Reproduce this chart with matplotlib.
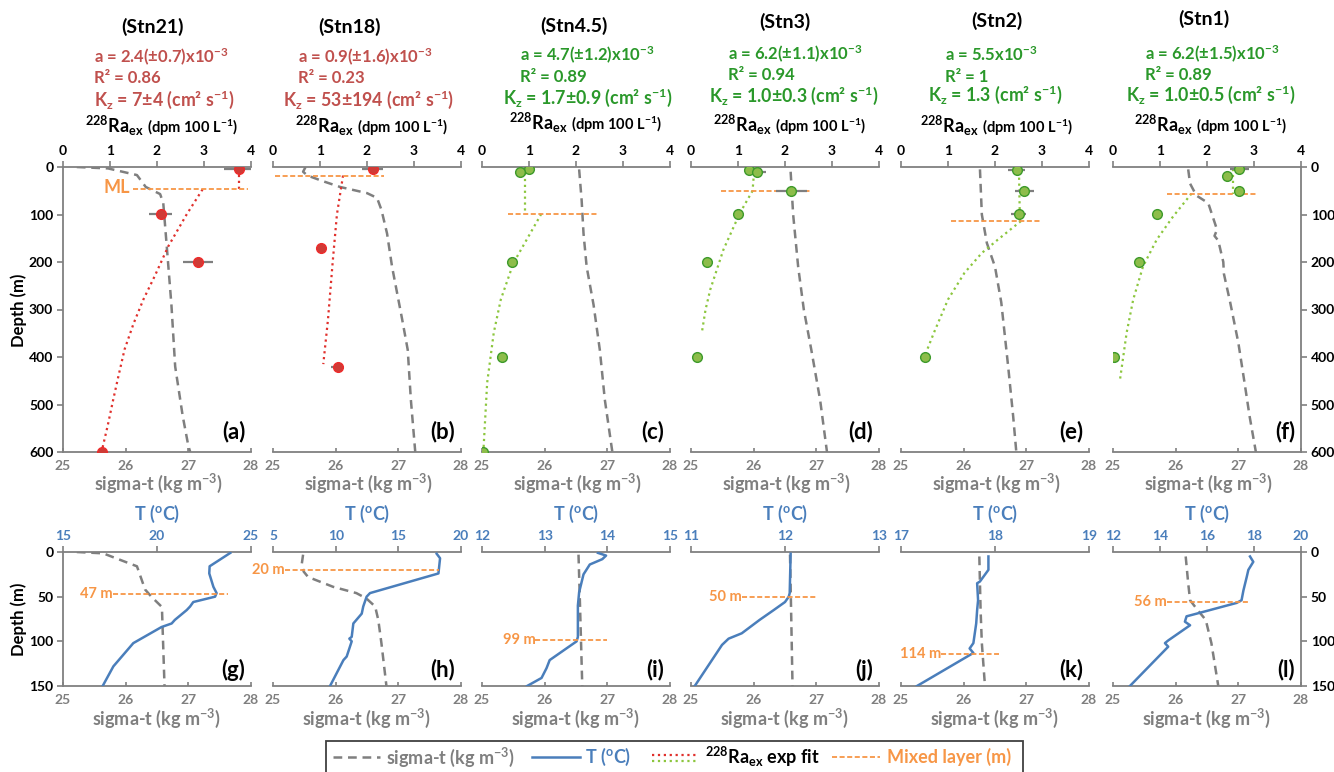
import matplotlib
matplotlib.use('Agg')
import matplotlib.pyplot as plt
from matplotlib.lines import Line2D
from matplotlib.patches import Rectangle

plt.rcParams['font.family'] = ['Lato', 'DejaVu Sans']
plt.rcParams['font.weight'] = 'bold'
plt.rcParams['mathtext.fontset'] = 'custom'
plt.rcParams['mathtext.rm'] = 'Lato:bold'
plt.rcParams['mathtext.bf'] = 'Lato:bold'
plt.rcParams['mathtext.it'] = 'Lato:bold'

# ---------------- data ----------------
stations = ['(Stn21)', '(Stn18)', '(Stn4.5)', '(Stn3)', '(Stn2)', '(Stn1)']
top_labels = ['(a)', '(b)', '(c)', '(d)', '(e)', '(f)']
bot_labels = ['(g)', '(h)', '(i)', '(j)', '(k)', '(l)']
a_text = [r'a = 2.4(±0.7)x10$^{-3}$', r'a = 0.9(±1.6)x10$^{-3}$', r'a = 4.7(±1.2)x10$^{-3}$',
          r'a = 6.2(±1.1)x10$^{-3}$', r'a = 5.5x10$^{-3}$', r'a = 6.2(±1.5)x10$^{-3}$']
r2_text = ['R² = 0.86', 'R² = 0.23', 'R² = 0.89', 'R² = 0.94', 'R² = 1', 'R² = 0.89']
kz_text = [r'K$_{z}$ = 7±4 (cm² s$^{-1}$)', r'K$_{z}$ = 53±194 (cm² s$^{-1}$)',
           r'K$_{z}$ = 1.7±0.9 (cm² s$^{-1}$)', r'K$_{z}$ = 1.0±0.3 (cm² s$^{-1}$)',
           r'K$_{z}$ = 1.3 (cm² s$^{-1}$)', r'K$_{z}$ = 1.0±0.5 (cm² s$^{-1}$)']
fit_group = ['red', 'red', 'green', 'green', 'green', 'green']

# 228Ra_ex points (dpm 100 L-1) vs depth (m)
ra_depth_21 = [5, 100, 200, 600]
ra_val_21 = [3.75, 2.08, 2.87, 0.82]
ra_err_21 = [0.32, 0.24, 0.32, 0.0]
ra_depth_18 = [5, 170, 420]
ra_val_18 = [2.12, 1.03, 1.38]
ra_err_18 = [0.22, 0.10, 0.14]
ra_depth_45 = [5, 10, 200, 400, 600]
ra_val_45 = [0.99, 0.81, 0.64, 0.42, 0.03]
ra_err_45 = [0, 0, 0, 0, 0]
ra_depth_3 = [7, 10, 50, 100, 200, 400]
ra_val_3 = [1.24, 1.40, 2.13, 0.99, 0.35, 0.13]
ra_err_3 = [0, 0.2, 0.33, 0, 0, 0]
ra_depth_2 = [7, 50, 100, 400]
ra_val_2 = [2.46, 2.62, 2.50, 0.52]
ra_err_2 = [0.18, 0.2, 0.15, 0]
ra_depth_1 = [4, 18, 50, 100, 200, 400]
ra_val_1 = [2.69, 2.42, 2.69, 0.93, 0.55, 0.02]
ra_err_1 = [0.2, 0, 0, 0, 0, 0]

# exp-fit lines: mixed-layer vertical part and deep curve
fitv_depth_21 = [5, 47];   fitv_val_21 = [3.75, 3.75]
fitc_depth_21 = [47, 100, 167, 230, 279, 330, 384, 440, 489, 545, 600]
fitc_val_21 = [2.97, 2.63, 2.24, 1.95, 1.71, 1.50, 1.31, 1.18, 1.07, 0.95, 0.82]
fitv_depth_18 = [];        fitv_val_18 = []
fitc_depth_18 = [18, 100, 200, 321, 415]
fitc_val_18 = [1.49, 1.36, 1.27, 1.17, 1.07]
fitv_depth_45 = [12, 99];  fitv_val_45 = [0.91, 0.91]
fitc_depth_45 = [99, 153, 202, 279, 349, 454, 598]
fitc_val_45 = [1.26, 0.95, 0.67, 0.40, 0.25, 0.11, 0.03]
fitv_depth_3 = [12, 50];   fitv_val_3 = [1.34, 1.31]
fitc_depth_3 = [50, 97, 174, 258, 300, 349]
fitc_val_3 = [1.31, 1.04, 0.69, 0.41, 0.31, 0.23]
fitv_depth_2 = [10, 114];  fitv_val_2 = [2.51, 2.53]
fitc_depth_2 = [114, 153, 181, 223, 279, 349, 384]
fitc_val_2 = [2.55, 2.06, 1.72, 1.35, 1.00, 0.70, 0.56]
fitv_depth_1 = [4, 56];    fitv_val_1 = [2.56, 2.56]
fitc_depth_1 = [56, 104, 153, 209, 279, 349, 447]
fitc_val_1 = [1.67, 1.28, 0.93, 0.64, 0.43, 0.29, 0.15]

# sigma-t profiles (0-600 m)
sig_depth_21 = [0, 3, 17, 42, 57, 76, 174, 290, 420, 524, 587, 600]
sig_val_21 = [25.22, 25.72, 26.18, 26.32, 26.55, 26.60, 26.66, 26.73, 26.79, 26.91, 27.00, 27.03]
sig_depth_18 = [0, 10, 18, 30, 42, 55, 65, 90, 140, 210, 320, 385, 490, 600]
sig_val_18 = [25.52, 25.48, 25.55, 25.80, 26.07, 26.50, 26.66, 26.73, 26.82, 26.90, 27.06, 27.15, 27.20, 27.27]
sig_depth_45 = [5, 70, 140, 210, 290, 385, 490, 600]
sig_val_45 = [26.55, 26.59, 26.62, 26.67, 26.78, 26.88, 26.96, 27.08]
sig_depth_3 = [10, 100, 210, 300, 385, 490, 600]
sig_val_3 = [26.59, 26.63, 26.71, 26.80, 26.92, 27.06, 27.17]
sig_depth_2 = [5, 100, 160, 210, 285, 420, 525, 600]
sig_val_2 = [26.26, 26.29, 26.37, 26.50, 26.60, 26.71, 26.79, 26.84]
sig_depth_1 = [5, 35, 60, 76, 132, 145, 155, 200, 225, 285, 370, 455, 525, 600]
sig_val_1 = [26.20, 26.23, 26.33, 26.52, 26.66, 26.62, 26.68, 26.76, 26.77, 26.87, 27.00, 27.10, 27.18, 27.28]

# upper 150 m: temperature and sigma-t
t_depth_21 = [1, 16, 24, 39, 46, 50, 56, 61, 65, 76, 80, 84, 102, 128, 150]
t_val_21 = [23.9, 22.8, 22.78, 23.0, 23.17, 23.09, 21.93, 21.76, 21.58, 20.95, 20.78, 20.24, 18.74, 17.68, 17.11]
s_depth_21 = [0, 1.5, 16, 42, 50, 61, 65, 150]
s_val_21 = [25.22, 25.64, 26.18, 26.31, 26.41, 26.57, 26.58, 26.62]
t_depth_18 = [2, 7, 24, 46, 50, 61, 69, 80, 95, 97, 100, 117, 121, 150]
t_val_18 = [18.06, 18.33, 18.2, 12.74, 12.47, 12.2, 12.08, 11.41, 11.28, 11.09, 11.28, 10.88, 10.62, 9.55]
s_depth_18 = [3, 13, 22, 28, 39, 46, 52, 61, 76, 102, 150]
s_val_18 = [25.48, 25.46, 25.49, 25.56, 25.96, 26.33, 26.49, 26.63, 26.68, 26.73, 26.81]
t_depth_45 = [1, 4, 8, 14, 25, 45, 60, 76, 95, 100, 121, 130, 141, 150]
t_val_45 = [13.85, 13.98, 13.92, 13.72, 13.62, 13.55, 13.53, 13.53, 13.53, 13.51, 13.08, 13.03, 12.95, 12.72]
s_depth_45 = [3, 50, 100, 150]
s_val_45 = [26.54, 26.56, 26.58, 26.60]
t_depth_3 = [2, 46, 50, 56, 65, 76, 91, 97, 104, 150]
t_val_3 = [12.06, 12.05, 12.04, 12.0, 11.88, 11.73, 11.54, 11.4, 11.33, 11.04]
s_depth_3 = [3, 75, 150]
s_val_3 = [26.58, 26.60, 26.62]
t_depth_2 = [5, 20, 33, 35, 54, 65, 80, 102, 108, 113, 150]
t_val_2 = [17.93, 17.93, 17.84, 17.81, 17.82, 17.81, 17.8, 17.77, 17.73, 17.77, 17.17]
s_depth_2 = [5, 65, 102, 150]
s_val_2 = [26.25, 26.27, 26.29, 26.34]
t_depth_1 = [5, 11, 20, 28, 43, 54, 57, 69, 72, 78, 82, 99, 102, 106, 150]
t_val_1 = [17.83, 17.97, 17.76, 17.69, 17.55, 17.47, 17.26, 15.56, 15.13, 15.06, 15.28, 14.35, 14.21, 14.35, 12.72]
s_depth_1 = [5, 35, 54, 65, 76, 102, 150]
s_val_1 = [26.16, 26.20, 26.23, 26.35, 26.48, 26.57, 26.68]

ml_depth = [47, 20, 99, 50, 114, 56]
ml_labels = ['47 m', '20 m', '99 m', '50 m', '114 m', '56 m']
ml_ra_extent = [(1.49, 3.94), (0.04, 2.36), (0.55, 2.47), (0.64, 2.55), (1.06, 2.99), (1.14, 3.06)]
ml_t_extent = [(17.66, 23.78), (5.96, 18.27), (12.85, 13.99), (11.54, 12.33), (17.43, 18.04), (14.29, 17.76)]
t_lim = [(15, 25), (5, 20), (12, 15), (11, 13), (17, 19), (12, 20)]
t_ticks = [[15, 20, 25], [5, 10, 15, 20], [12, 13, 14, 15], [11, 12, 13], [17, 18, 19], [12, 14, 16, 18, 20]]

ra_sets = [(ra_depth_21, ra_val_21, ra_err_21), (ra_depth_18, ra_val_18, ra_err_18),
           (ra_depth_45, ra_val_45, ra_err_45), (ra_depth_3, ra_val_3, ra_err_3),
           (ra_depth_2, ra_val_2, ra_err_2), (ra_depth_1, ra_val_1, ra_err_1)]
fitv_sets = [(fitv_depth_21, fitv_val_21), (fitv_depth_18, fitv_val_18), (fitv_depth_45, fitv_val_45),
             (fitv_depth_3, fitv_val_3), (fitv_depth_2, fitv_val_2), (fitv_depth_1, fitv_val_1)]
fitc_sets = [(fitc_depth_21, fitc_val_21), (fitc_depth_18, fitc_val_18), (fitc_depth_45, fitc_val_45),
             (fitc_depth_3, fitc_val_3), (fitc_depth_2, fitc_val_2), (fitc_depth_1, fitc_val_1)]
sig_sets = [(sig_depth_21, sig_val_21), (sig_depth_18, sig_val_18), (sig_depth_45, sig_val_45),
            (sig_depth_3, sig_val_3), (sig_depth_2, sig_val_2), (sig_depth_1, sig_val_1)]
t_sets = [(t_depth_21, t_val_21), (t_depth_18, t_val_18), (t_depth_45, t_val_45),
          (t_depth_3, t_val_3), (t_depth_2, t_val_2), (t_depth_1, t_val_1)]
s_sets = [(s_depth_21, s_val_21), (s_depth_18, s_val_18), (s_depth_45, s_val_45),
          (s_depth_3, s_val_3), (s_depth_2, s_val_2), (s_depth_1, s_val_1)]

# ---------------- style ----------------
W, H = 1334, 772
GRAY = '#7f7f7f'
SPINE = '#808080'
BLUE = '#4a7ebb'
ORANGE = '#f79646'
RED_TXT = '#c0504d'
GREEN_TXT = '#2a982a'
RED_PT, RED_EDGE = '#cf3b36', '#ee2b2b'
GREEN_PT, GREEN_EDGE = '#8dbd4a', '#3d9a2a'
RED_FIT, GREEN_FIT = '#e0302c', '#8cc63e'

panel_x = [63, 273, 482, 691, 901, 1113]
panel_w = 188
top_y0, top_y1 = 167, 452
bot_y0, bot_y1 = 552, 686

title_pos = [(153, 27), (350, 27), (574, 26), (785, 22), (997, 21), (1204, 19)]
a_pos = [(94, 57), (298, 57), (520, 55), (728, 54), (945, 55), (1145, 54)]
r2_pos = [(94, 78), (298, 78), (520, 77), (728, 75), (945, 77), (1145, 75)]
kz_pos = [(94, 100), (283, 100), (503, 98), (709, 96), (928, 95), (1126, 95)]
ra_title_pos = [(160, 133), (370, 133), (584, 130), (788, 132), (995, 133), (1209, 132)]

fig = plt.figure(figsize=(W / 100, H / 100), dpi=100)


def fx(px):
    return px / W


def fy(py):
    return 1 - py / H


def style_axes(ax, ax2, i, depth_ticks, t_color):
    for s in ['top', 'left', 'right']:
        ax.spines[s].set_visible(False)
    ax.spines['bottom'].set_color(SPINE)
    ax.spines['bottom'].set_linewidth(1.3)
    for s in ['bottom', 'left', 'right']:
        ax2.spines[s].set_visible(False)
    ax2.spines['top'].set_color(SPINE)
    ax2.spines['top'].set_linewidth(1.3)
    ax.set_xticks([25, 26, 27, 28])
    ax.tick_params(axis='x', direction='in', length=3, width=1.2, color=SPINE,
                   labelcolor=GRAY, labelsize=10, pad=6)
    ax2.tick_params(axis='x', direction='out', length=4, width=1.2, color=SPINE,
                    labelcolor=t_color, labelsize=10, pad=3)
    for lab in ax.get_xticklabels() + ax2.get_xticklabels():
        lab.set_fontweight('bold')
    if i == 0:
        ax.spines['left'].set_visible(True)
        ax.spines['left'].set_color(SPINE)
        ax.spines['left'].set_linewidth(1.3)
        ax.set_yticks(depth_ticks)
        ax.tick_params(axis='y', direction='out', length=4, width=1.2, color=SPINE,
                       labelcolor='black', labelsize=10, pad=3)
    elif i == 5:
        ax.spines['right'].set_visible(True)
        ax.spines['right'].set_color(SPINE)
        ax.spines['right'].set_linewidth(1.3)
        ax.yaxis.tick_right()
        ax.set_yticks(depth_ticks)
        ax.tick_params(axis='y', direction='out', length=4, width=1.2, color=SPINE,
                       labelcolor='black', labelsize=10, pad=3)
    else:
        ax.set_yticks([])
    for lab in ax.get_yticklabels():
        lab.set_fontweight('bold')


for i in range(6):
    x0 = panel_x[i]
    # ---------- top panel ----------
    ax = fig.add_axes([fx(x0), fy(top_y1), panel_w / W, (top_y1 - top_y0) / H])
    ax.set_xlim(25, 28)
    ax.set_ylim(600, 0)
    sd, sv = sig_sets[i]
    ax.plot(sv, sd, color=GRAY, lw=1.8, dashes=(3.5, 2.3), zorder=2)
    ax2 = ax.twiny()
    ax2.set_xlim(0, 4)
    ax2.set_xticks([0, 1, 2, 3, 4])
    style_axes(ax, ax2, i, [0, 100, 200, 300, 400, 500, 600], 'black')
    red = fit_group[i] == 'red'
    fcol = RED_FIT if red else GREEN_FIT
    vd, vv = fitv_sets[i]
    if vd:
        ax2.plot(vv, vd, color=fcol, lw=1.6, ls=':', zorder=3)
    cd, cv = fitc_sets[i]
    ax2.plot(cv, cd, color=fcol, lw=1.6, ls=':', zorder=3)
    e0, e1 = ml_ra_extent[i]
    ax2.plot([e0, e1], [ml_depth[i], ml_depth[i]], color=ORANGE, lw=1.3, dashes=(2.8, 1.4), zorder=4)
    rd, rv, re = ra_sets[i]
    ax2.errorbar(rv, rd, xerr=re, fmt='o', ms=7,
                 mfc=RED_PT if red else GREEN_PT, mec=RED_EDGE if red else GREEN_EDGE, mew=1.0,
                 ecolor=GRAY, elinewidth=1.6, capsize=0, zorder=5)
    ax.text(0.97, 0.072, top_labels[i], transform=ax.transAxes, ha='right', va='center',
            fontsize=16, fontweight='bold', color='black')
    if i == 0:
        ax2.text(e0 - 0.07, ml_depth[i] - 3, 'ML', ha='right', va='center', color=ORANGE,
                 fontsize=13, fontweight='bold')

    # ---------- bottom panel ----------
    bx = fig.add_axes([fx(x0), fy(bot_y1), panel_w / W, (bot_y1 - bot_y0) / H])
    bx.set_xlim(25, 28)
    bx.set_ylim(150, 0)
    sd, sv = s_sets[i]
    bx.plot(sv, sd, color=GRAY, lw=1.8, dashes=(3.5, 2.3), zorder=2)
    bx2 = bx.twiny()
    bx2.set_xlim(*t_lim[i])
    bx2.set_xticks(t_ticks[i])
    style_axes(bx, bx2, i, [0, 50, 100, 150], BLUE)
    td, tv = t_sets[i]
    bx2.plot(tv, td, color=BLUE, lw=1.8, zorder=3)
    e0, e1 = ml_t_extent[i]
    bx2.plot([e0, e1], [ml_depth[i], ml_depth[i]], color=ORANGE, lw=1.3, dashes=(2.8, 1.4), zorder=4)
    bx2.text(e0, ml_depth[i], ml_labels[i], ha='right', va='center', color=ORANGE,
             fontsize=10.5, fontweight='bold')
    bx.text(0.97, 0.12, bot_labels[i], transform=bx.transAxes, ha='right', va='center',
            fontsize=16, fontweight='bold', color='black')

    # ---------- texts ----------
    cx = x0 + panel_w / 2
    fig.text(fx(title_pos[i][0]), fy(title_pos[i][1]), stations[i], ha='center', va='center',
             fontsize=14, fontweight='bold', color='black')
    tcol = RED_TXT if red else GREEN_TXT
    fig.text(fx(a_pos[i][0]), fy(a_pos[i][1]), a_text[i], ha='left', va='center',
             fontsize=12, fontweight='bold', color=tcol)
    fig.text(fx(r2_pos[i][0]), fy(r2_pos[i][1]), r2_text[i], ha='left', va='center',
             fontsize=12, fontweight='bold', color=tcol)
    fig.text(fx(kz_pos[i][0]), fy(kz_pos[i][1]), kz_text[i], ha='left', va='center',
             fontsize=12.8, fontweight='bold', color=tcol)
    rx, ry = ra_title_pos[i]
    fig.text(fx(rx - 16), fy(ry), r'$^{228}$Ra$_{ex}$', ha='right', va='baseline',
             fontsize=13, fontweight='bold', color='black')
    fig.text(fx(rx - 13), fy(ry), r'(dpm 100 L$^{-1}$)', ha='left', va='baseline',
             fontsize=10.5, fontweight='bold', color='black')
    fig.text(fx(cx + 2), fy(483), r'sigma-t (kg m$^{-3}$)', ha='center', va='center',
             fontsize=13, fontweight='bold', color=GRAY)
    fig.text(fx(cx), fy(718), r'sigma-t (kg m$^{-3}$)', ha='center', va='center',
             fontsize=13, fontweight='bold', color=GRAY)
    fig.text(fx(cx), fy(514), r'T ($^{o}$C)', ha='center', va='center',
             fontsize=13, fontweight='bold', color=BLUE)

fig.text(fx(19), fy(310), 'Depth (m)', rotation=90, ha='center', va='center',
         fontsize=12, fontweight='bold', color='black')
fig.text(fx(19), fy(619), 'Depth (m)', rotation=90, ha='center', va='center',
         fontsize=12, fontweight='bold', color='black')

# ---------------- legend ----------------
fig.patches.append(Rectangle((fx(326), fy(780)), (1023 - 326) / W, (780 - 741) / H,
                             transform=fig.transFigure, fill=False, ec='#404040', lw=1.3))
ly = fy(757)
fig.lines.append(Line2D([fx(333), fx(380)], [ly, ly], transform=fig.transFigure,
                        color=GRAY, lw=1.8, dashes=(3.5, 2.3)))
fig.text(fx(386), ly, r'sigma-t (kg m$^{-3}$)', ha='left', va='center', fontsize=13,
         fontweight='bold', color=GRAY)
fig.lines.append(Line2D([fx(532), fx(580)], [ly, ly], transform=fig.transFigure,
                        color=BLUE, lw=1.8))
fig.text(fx(585), ly, r'T ($^{o}$C)', ha='left', va='center', fontsize=13,
         fontweight='bold', color=BLUE)
fig.lines.append(Line2D([fx(652), fx(698)], [fy(754.5), fy(754.5)], transform=fig.transFigure,
                        color=RED_FIT, lw=1.6, ls=':'))
fig.lines.append(Line2D([fx(652), fx(698)], [fy(760.5), fy(760.5)], transform=fig.transFigure,
                        color=GREEN_FIT, lw=1.6, ls=':'))
fig.text(fx(705), ly, r'$^{228}$Ra$_{ex}$ exp fit', ha='left', va='center', fontsize=13,
         fontweight='bold', color='black')
fig.lines.append(Line2D([fx(832), fx(880)], [ly, ly], transform=fig.transFigure,
                        color=ORANGE, lw=1.3, dashes=(2.8, 1.4)))
fig.text(fx(887), ly, 'Mixed layer (m)', ha='left', va='center', fontsize=13,
         fontweight='bold', color=ORANGE)

fig.savefig('out.png', dpi=100)
